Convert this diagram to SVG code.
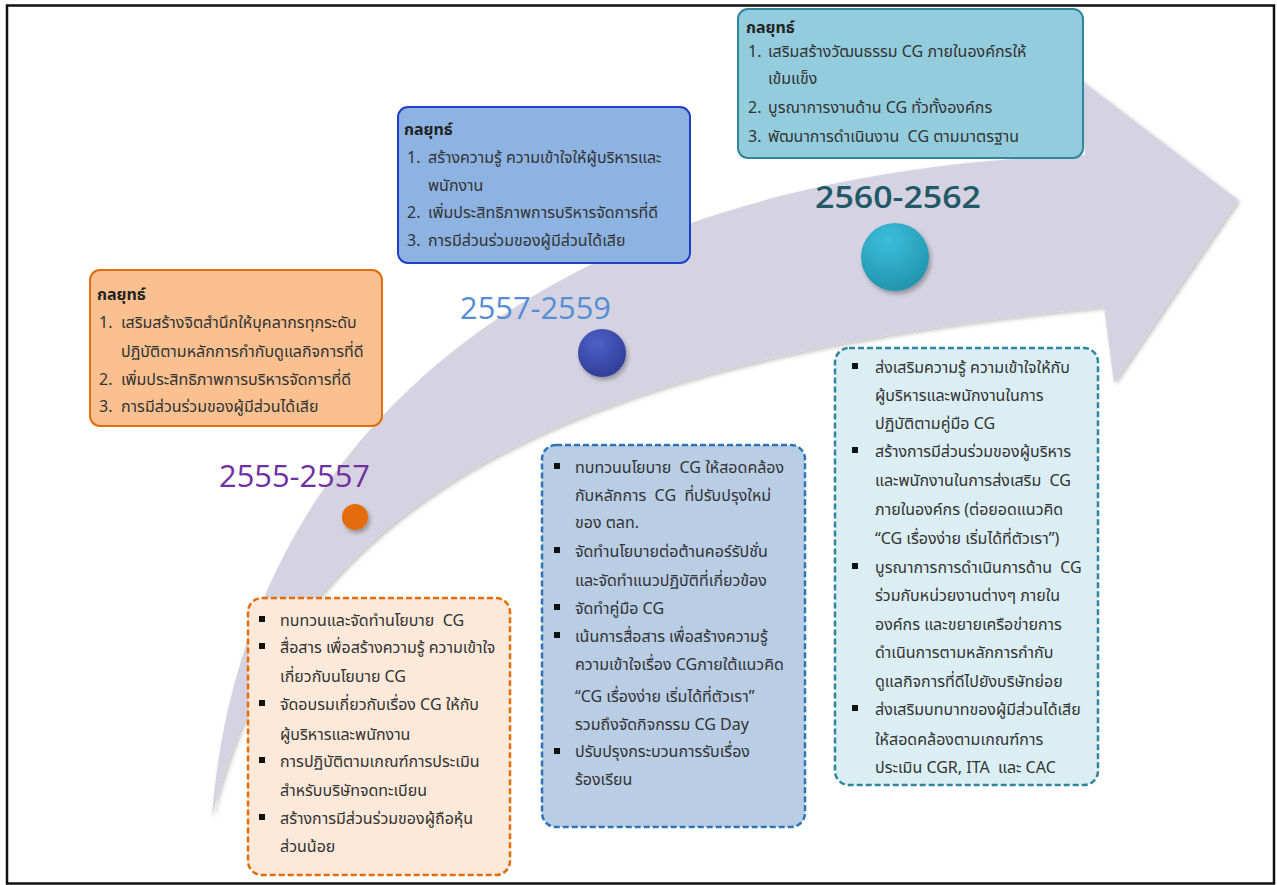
<svg xmlns="http://www.w3.org/2000/svg" width="1277" height="885" viewBox="0 0 1277 885">
<style>
.t{font-family:"Noto Sans Thai","Tahoma","Leelawadee UI","Noto Sans","DejaVu Sans",sans-serif;font-size:16px;fill:#333333}
.b{font-weight:bold;fill:#222222}
.yr{font-family:"Open Sans","Noto Sans",sans-serif;font-size:31px}
.sq{fill:#111111}
.dash{stroke-width:2.5;stroke-dasharray:6 3}
</style>
<defs>
<filter id="sh" x="-20%" y="-20%" width="140%" height="140%">
<feDropShadow dx="2" dy="3" stdDeviation="2" flood-color="#000" flood-opacity="0.3"/>
</filter>
<filter id="ash" x="-5%" y="-5%" width="110%" height="110%">
<feDropShadow dx="2" dy="2" stdDeviation="2" flood-color="#000" flood-opacity="0.25"/>
</filter>
<radialGradient id="gBlue" cx="0.4" cy="0.3" r="0.8">
<stop offset="0" stop-color="#5060C8"/>
<stop offset="1" stop-color="#2C3A92"/>
</radialGradient>
<radialGradient id="gTeal" cx="0.4" cy="0.25" r="0.85">
<stop offset="0" stop-color="#3CBEDB"/>
<stop offset="1" stop-color="#208FA8"/>
</radialGradient>
</defs>
<rect x="0" y="0" width="1277" height="885" fill="#ffffff"/>
<rect x="7" y="5.5" width="1267" height="878" fill="none" stroke="#111111" stroke-width="2.5"/>

<g id="connectors">
<path id="arrow" d="M212,817 C240,450 520,175 1085,155 L1078,78 L1238,200 L1114,383 L1104,307 C560,360 290,500 212,817 Z" fill="#D5D2E1" filter="url(#ash)"/>
</g>

<g id="dot-2555"><circle cx="355" cy="517" r="13" fill="#E36C0A" filter="url(#sh)"/></g>
<g id="dot-2557"><circle cx="602" cy="353" r="24" fill="url(#gBlue)" filter="url(#sh)"/></g>
<g id="dot-2560"><circle cx="895" cy="257" r="34" fill="url(#gTeal)" filter="url(#sh)"/></g>

<g id="year-2555"><text class="yr" x="219" y="487" fill="#7030A0" textLength="151" lengthAdjust="spacingAndGlyphs">2555-2557</text></g>
<g id="year-2557"><text class="yr" x="460" y="319" fill="#558ED5" textLength="151" lengthAdjust="spacingAndGlyphs">2557-2559</text></g>
<g id="year-2560"><text class="yr" x="815" y="208" fill="#215967" font-size="35" font-weight="600" textLength="166" lengthAdjust="spacingAndGlyphs">2560-2562</text></g>

<g id="strategy-2555">
<rect x="90" y="270" width="292" height="156" rx="10" fill="#FAC090" stroke="#E46C0A" stroke-width="2"/>
<text class="t b" x="97" y="300">กลยุทธ์</text>
<text class="t" x="99" y="328">1.</text><text class="t" x="121" y="328">เสริมสร้างจิตสำนึกให้บุคลากรทุกระดับ</text>
<text class="t" x="121" y="357">ปฏิบัติตามหลักการกำกับดูแลกิจการที่ดี</text>
<text class="t" x="99" y="385">2.</text><text class="t" x="121" y="385">เพิ่มประสิทธิภาพการบริหารจัดการที่ดี</text>
<text class="t" x="99" y="412">3.</text><text class="t" x="121" y="412">การมีส่วนร่วมของผู้มีส่วนได้เสีย</text>
</g>

<g id="strategy-2557">
<rect x="398" y="107" width="292" height="156" rx="10" fill="#8DB3E2" stroke="#1F3FC4" stroke-width="2"/>
<text class="t b" x="404" y="135">กลยุทธ์</text>
<text class="t" x="407" y="163">1.</text><text class="t" x="428" y="163">สร้างความรู้ ความเข้าใจให้ผู้บริหารและ</text>
<text class="t" x="428" y="191">พนักงาน</text>
<text class="t" x="407" y="218">2.</text><text class="t" x="428" y="218">เพิ่มประสิทธิภาพการบริหารจัดการที่ดี</text>
<text class="t" x="407" y="246">3.</text><text class="t" x="428" y="246">การมีส่วนร่วมของผู้มีส่วนได้เสีย</text>
</g>

<g id="strategy-2560">
<rect x="738" y="9" width="345" height="149" rx="10" fill="#93CDDD" stroke="#31859C" stroke-width="2"/>
<text class="t b" x="746" y="33">กลยุทธ์</text>
<text class="t" x="748" y="57">1.</text><text class="t" x="768" y="57">เสริมสร้างวัฒนธรรม CG ภายในองค์กรให้</text>
<text class="t" x="768" y="84">เข้มแข็ง</text>
<text class="t" x="748" y="113">2.</text><text class="t" x="768" y="113">บูรณาการงานด้าน CG ทั่วทั้งองค์กร</text>
<text class="t" x="748" y="142">3.</text><text class="t" x="768" y="142" xml:space="preserve">พัฒนาการดำเนินงาน  CG ตามมาตรฐาน</text>
</g>

<g id="actions-2555">
<rect class="dash" x="248" y="598" width="262" height="277" rx="14" fill="#FDE9D9" stroke="#E46C0A"/>
<rect class="sq" x="259" y="616" width="6" height="6"/><text class="t" x="280" y="626" xml:space="preserve">ทบทวนและจัดทำนโยบาย  CG</text>
<rect class="sq" x="259" y="643" width="6" height="6"/><text class="t" x="280" y="653">สื่อสาร เพื่อสร้างความรู้ ความเข้าใจ</text>
<text class="t" x="280" y="682">เกี่ยวกับนโยบาย CG</text>
<rect class="sq" x="259" y="700" width="6" height="6"/><text class="t" x="280" y="710">จัดอบรมเกี่ยวกับเรื่อง CG ให้กับ</text>
<text class="t" x="280" y="740">ผู้บริหารและพนักงาน</text>
<rect class="sq" x="259" y="757" width="6" height="6"/><text class="t" x="280" y="767">การปฏิบัติตามเกณฑ์การประเมิน</text>
<text class="t" x="280" y="796">สำหรับบริษัทจดทะเบียน</text>
<rect class="sq" x="259" y="814" width="6" height="6"/><text class="t" x="280" y="824">สร้างการมีส่วนร่วมของผู้ถือหุ้น</text>
<text class="t" x="280" y="852">ส่วนน้อย</text>
</g>

<g id="actions-2557">
<rect class="dash" x="542" y="445" width="263" height="382" rx="14" fill="#B9CDE5" stroke="#2E75B6"/>
<rect class="sq" x="554" y="463" width="6" height="6"/><text class="t" x="575" y="473" xml:space="preserve">ทบทวนนโยบาย  CG ให้สอดคล้อง</text>
<text class="t" x="575" y="501" xml:space="preserve">กับหลักการ  CG  ที่ปรับปรุงใหม่</text>
<text class="t" x="575" y="528">ของ ตลท.</text>
<rect class="sq" x="554" y="547" width="6" height="6"/><text class="t" x="575" y="557">จัดทำนโยบายต่อต้านคอร์รัปชั่น</text>
<text class="t" x="575" y="586">และจัดทำแนวปฏิบัติที่เกี่ยวข้อง</text>
<rect class="sq" x="554" y="604" width="6" height="6"/><text class="t" x="575" y="614">จัดทำคู่มือ CG</text>
<rect class="sq" x="554" y="632" width="6" height="6"/><text class="t" x="575" y="642">เน้นการสื่อสาร เพื่อสร้างความรู้</text>
<text class="t" x="575" y="670">ความเข้าใจเรื่อง CGภายใต้แนวคิด</text>
<text class="t" x="575" y="702">“CG เรื่องง่าย เริ่มได้ที่ตัวเรา”</text>
<text class="t" x="575" y="730">รวมถึงจัดกิจกรรม CG Day</text>
<rect class="sq" x="554" y="748" width="6" height="6"/><text class="t" x="575" y="757">ปรับปรุงกระบวนการรับเรื่อง</text>
<text class="t" x="575" y="785">ร้องเรียน</text>
</g>

<g id="actions-2560">
<rect class="dash" x="835" y="348" width="263" height="437" rx="14" fill="#DBEEF3" stroke="#31859C"/>
<rect class="sq" x="852" y="363" width="6" height="6"/><text class="t" x="875" y="373">ส่งเสริมความรู้ ความเข้าใจให้กับ</text>
<text class="t" x="875" y="401">ผู้บริหารและพนักงานในการ</text>
<text class="t" x="875" y="429">ปฏิบัติตามคู่มือ CG</text>
<rect class="sq" x="852" y="447" width="6" height="6"/><text class="t" x="875" y="457">สร้างการมีส่วนร่วมของผู้บริหาร</text>
<text class="t" x="875" y="486" xml:space="preserve">และพนักงานในการส่งเสริม  CG</text>
<text class="t" x="875" y="515">ภายในองค์กร (ต่อยอดแนวคิด</text>
<text class="t" x="875" y="544">“CG เรื่องง่าย เริ่มได้ที่ตัวเรา”)</text>
<rect class="sq" x="852" y="563" width="6" height="6"/><text class="t" x="875" y="573" xml:space="preserve">บูรณาการการดำเนินการด้าน  CG</text>
<text class="t" x="875" y="601">ร่วมกับหน่วยงานต่างๆ ภายใน</text>
<text class="t" x="875" y="630">องค์กร และขยายเครือข่ายการ</text>
<text class="t" x="875" y="658">ดำเนินการตามหลักการกำกับ</text>
<text class="t" x="875" y="687">ดูแลกิจการที่ดีไปยังบริษัทย่อย</text>
<rect class="sq" x="852" y="705" width="6" height="6"/><text class="t" x="875" y="715">ส่งเสริมบทบาทของผู้มีส่วนได้เสีย</text>
<text class="t" x="875" y="745">ให้สอดคล้องตามเกณฑ์การ</text>
<text class="t" x="875" y="773" xml:space="preserve">ประเมิน CGR, ITA  และ CAC</text>
</g>
</svg>
